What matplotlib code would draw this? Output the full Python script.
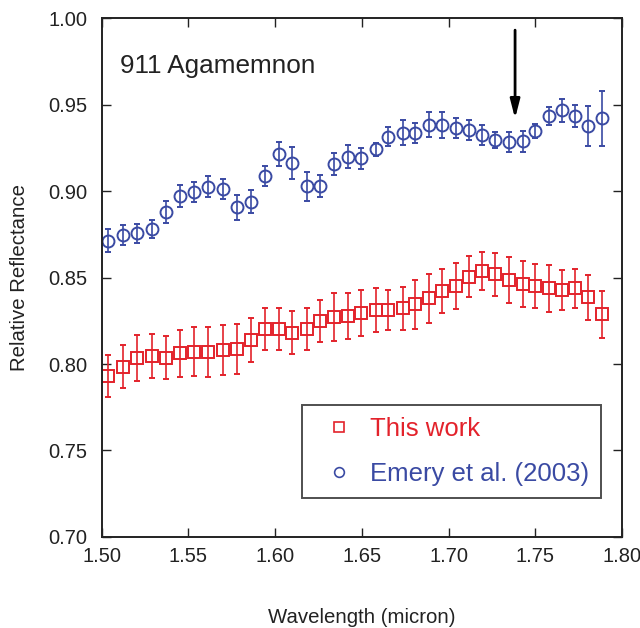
import matplotlib
matplotlib.use('Agg')
import matplotlib.pyplot as plt
from matplotlib.lines import Line2D
from matplotlib.ticker import FormatStrFormatter

plt.rcParams['font.family'] = ['Liberation Sans', 'DejaVu Sans']

# wavelength grid (micron), shared by both spectra
wavelength = [1.5036, 1.5123, 1.5206, 1.5292, 1.5373, 1.5450, 1.5531, 1.5613, 1.5697,
              1.5781, 1.5858, 1.5941, 1.6023, 1.6098, 1.6182, 1.6258, 1.6339, 1.6421,
              1.6496, 1.6581, 1.6652, 1.6735, 1.6808, 1.6885, 1.6960, 1.7043, 1.7120,
              1.7193, 1.7268, 1.7348, 1.7427, 1.7498, 1.7579, 1.7656, 1.7729, 1.7806,
              1.7883]

# this work (red squares)
this_work = [0.7931, 0.7985, 0.8036, 0.8046, 0.8036, 0.8062, 0.8071, 0.8071, 0.8081,
             0.8087, 0.8139, 0.8202, 0.8202, 0.8181, 0.8202, 0.8249, 0.8273, 0.8279,
             0.8297, 0.8312, 0.8312, 0.8322, 0.8345, 0.8380, 0.8422, 0.8453, 0.8505,
             0.8538, 0.8520, 0.8486, 0.8462, 0.8453, 0.8438, 0.8428, 0.8438, 0.8386,
             0.8287]
this_work_err = [0.0120, 0.0125, 0.0133, 0.0128, 0.0125, 0.0135, 0.0143, 0.0144, 0.0146,
                 0.0142, 0.0128, 0.0122, 0.0123, 0.0125, 0.0121, 0.0120, 0.0140, 0.0134,
                 0.0132, 0.0125, 0.0116, 0.0125, 0.0142, 0.0143, 0.0128, 0.0134, 0.0118,
                 0.0110, 0.0125, 0.0133, 0.0131, 0.0127, 0.0135, 0.0116, 0.0112, 0.0131,
                 0.0134]

# Emery et al. (2003) (blue circles)
emery = [0.8713, 0.8746, 0.8755, 0.8780, 0.8879, 0.8971, 0.8996, 0.9025, 0.9012,
         0.8906, 0.8938, 0.9087, 0.9214, 0.9164, 0.9029, 0.9029, 0.9156, 0.9198,
         0.9189, 0.9241, 0.9314, 0.9337, 0.9337, 0.9385, 0.9380, 0.9364, 0.9353,
         0.9324, 0.9295, 0.9285, 0.9289, 0.9347, 0.9435, 0.9468, 0.9435, 0.9376,
         0.9420]
emery_err = [0.0067, 0.0060, 0.0054, 0.0053, 0.0065, 0.0065, 0.0059, 0.0060, 0.0060,
             0.0073, 0.0067, 0.0060, 0.0071, 0.0092, 0.0084, 0.0065, 0.0064, 0.0067,
             0.0060, 0.0037, 0.0055, 0.0072, 0.0058, 0.0072, 0.0075, 0.0058, 0.0058,
             0.0059, 0.0048, 0.0058, 0.0060, 0.0039, 0.0054, 0.0067, 0.0063, 0.0114,
             0.0160]

arrow_x = 1.7383
arrow_top, arrow_tip = 0.9931, 0.942

red = '#e3222b'
blue = '#3a4aa3'
dark = '#222222'

fig = plt.figure(figsize=(6.4, 6.28), dpi=100)
ax = fig.add_axes([0.159, 0.145, 0.813, 0.826])

ax.errorbar(wavelength, this_work, yerr=this_work_err, fmt='s', ms=9,
            mfc='none', mec=red, mew=1.4, ecolor=red, elinewidth=1.2,
            capsize=2.4, capthick=1.2)
ax.errorbar(wavelength, emery, yerr=emery_err, fmt='o', ms=8.6,
            mfc='none', mec=blue, mew=1.4, ecolor=blue, elinewidth=1.2,
            capsize=2.2, capthick=1.2)

ax.annotate('', xy=(arrow_x, arrow_tip), xytext=(arrow_x, arrow_top),
            arrowprops=dict(arrowstyle='-|>,head_length=0.7,head_width=0.18',
                            lw=2, color='black', shrinkA=0, shrinkB=0,
                            mutation_scale=16))

ax.text(1.5108, 0.9682, '911 Agamemnon', fontsize=18.8, color=dark, va='baseline')

ax.set_xlim(1.5, 1.8)
ax.set_ylim(0.7, 1.0)
ax.set_xticks([1.50, 1.55, 1.60, 1.65, 1.70, 1.75, 1.80])
ax.set_yticks([0.70, 0.75, 0.80, 0.85, 0.90, 0.95, 1.00])
ax.xaxis.set_major_formatter(FormatStrFormatter('%.2f'))
ax.yaxis.set_major_formatter(FormatStrFormatter('%.2f'))
ax.tick_params(direction='in', top=True, right=True, length=6.5, width=1,
               color=dark, labelsize=14.5, labelcolor=dark)
ax.tick_params(axis='y', pad=10.5)
ax.tick_params(axis='x', pad=7.5)
for s in ax.spines.values():
    s.set_color(dark)
    s.set_linewidth(1.4)

ax.set_xlabel('Wavelength (micron)', fontsize=14.7, color=dark, labelpad=30)
ax.set_ylabel('Relative Reflectance', fontsize=14.7, color=dark, labelpad=14)

handles = [Line2D([], [], ls='none', marker='s', ms=7, mfc='none', mec=red, mew=1.2),
           Line2D([], [], ls='none', marker='o', ms=7, mfc='none', mec=blue, mew=1.2)]
leg = ax.legend(handles, ['This work', 'Emery et al. (2003)'], loc='lower left',
                bbox_to_anchor=(0.385, 0.075), borderaxespad=0, fontsize=18.5,
                frameon=True, fancybox=False, borderpad=0.45, labelspacing=0.85,
                handlelength=2.0, handletextpad=0.2)
leg.get_frame().set_edgecolor(dark)
leg.get_frame().set_linewidth(1.4)
leg.texts[0].set_color(red)
leg.texts[1].set_color(blue)

fig.savefig('out.png', dpi=100)
